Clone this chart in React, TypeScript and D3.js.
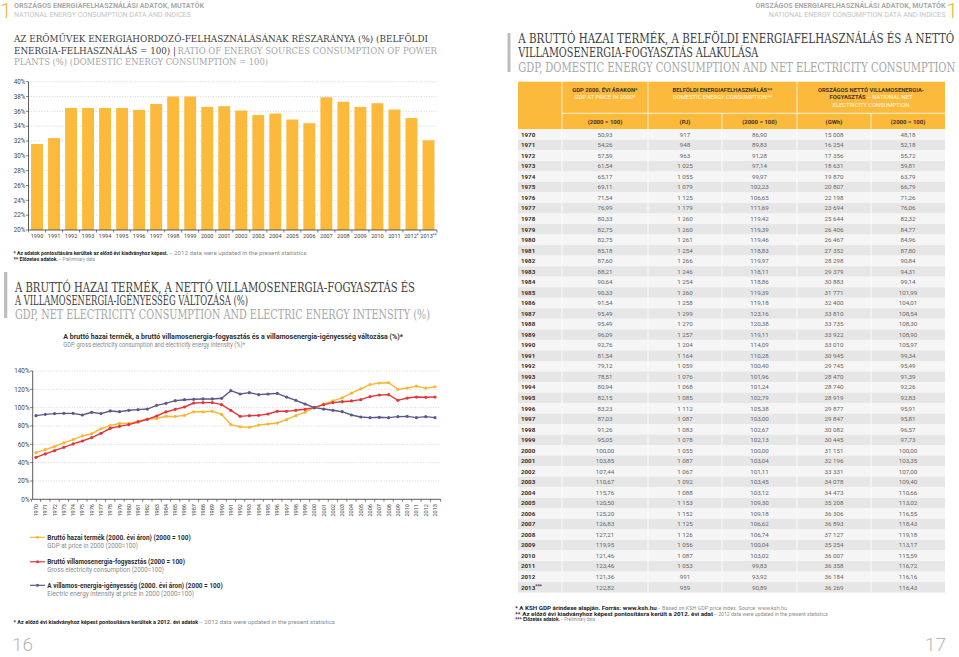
import React from "react";
import * as d3 from "d3";

// ---------- DATA ----------
const barYears = ["1990","1991","1992","1993","1994","1995","1996","1997","1998","1999","2000","2001","2002","2003","2004","2005","2006","2007","2008","2009","2010","2011","2012*","2013**"];
const barShare = [31.6,32.4,36.45,36.45,36.45,36.45,36.2,37.0,38.0,38.0,36.6,36.7,36.1,35.5,35.7,34.9,34.4,37.9,37.3,36.6,37.1,36.25,35.1,32.1];
const barTicks = [20,22,24,26,28,30,32,34,36,38,40];

const tableYears = ["1970","1971","1972","1973","1974","1975","1976","1977","1978","1979","1980","1981","1982","1983","1984","1985","1986","1987","1988","1989","1990","1991","1992","1993","1994","1995","1996","1997","1998","1999","2000","2001","2002","2003","2004","2005","2006","2007","2008","2009","2010","2011","2012","2013***"];
const gdpIdx = [50.93,54.26,57.59,61.54,65.17,69.11,71.54,76.99,80.33,82.75,82.75,85.18,87.60,88.21,90.64,90.33,91.54,95.49,95.49,96.09,92.76,81.54,79.12,78.51,80.94,82.15,83.23,87.03,91.26,95.05,100.00,103.85,107.44,110.67,115.76,120.50,125.20,126.83,127.21,119.95,121.46,123.46,121.36,122.82];
const energyPJ = [917,948,963,1025,1055,1079,1125,1179,1260,1260,1261,1254,1266,1246,1254,1260,1258,1299,1270,1257,1204,1164,1059,1076,1068,1085,1112,1087,1083,1078,1055,1087,1067,1092,1088,1153,1152,1125,1126,1056,1087,1053,991,959];
const energyIdx = [86.90,89.83,91.28,97.14,99.97,102.23,106.65,111.69,119.42,119.39,119.46,118.83,119.97,118.11,118.86,119.39,119.18,123.16,120.38,119.11,114.09,110.28,100.40,101.96,101.24,102.79,105.38,103.00,102.67,102.13,100.00,103.04,101.11,103.45,103.12,109.30,109.18,106.62,106.74,100.04,103.02,99.83,93.92,90.89];
const elecGWh = [15008,16254,17356,18631,19870,20807,22198,23694,25644,26406,26467,27352,28298,29379,30883,31771,32400,33810,33735,33922,33010,30945,29745,28470,28740,28919,29877,29847,30082,30445,31151,32196,33331,34078,34473,35208,36306,36893,37127,35254,36007,36358,36184,36269];
const elecIdx = [48.18,52.18,55.72,59.81,63.79,66.79,71.26,76.06,82.32,84.77,84.96,87.80,90.84,94.31,99.14,101.99,104.01,108.54,108.30,108.90,105.97,99.34,95.49,91.39,92.26,92.83,95.91,95.81,96.57,97.73,100.00,103.35,107.00,109.40,110.66,113.02,116.55,118.43,119.18,113.17,115.59,116.72,116.16,116.43];

// line chart series
const lineYears = ["1970","1971","1972","1973","1974","1975","1976","1977","1978","1979","1980","1981","1982","1983","1984","1985","1986","1987","1988","1989","1990","1991","1992","1993","1994","1995","1996","1997","1998","1999","2000","2001","2002","2003","2004","2005","2006","2007","2008","2009","2010","2011","2012","2013"];
const grossElec = [45.8,49.5,53.1,56.7,60.4,63.6,67.3,72.0,77.5,79.6,81.5,84.4,87.3,90.9,95.3,98.2,100.7,105.1,105.5,105.5,103.3,97.1,90.5,91.3,91.6,93.1,96.0,96.0,97.1,98.2,100,103.3,105.5,106.5,107.3,108.7,112.0,113.8,114.2,108.0,110.5,111.6,111.3,111.6];
const intensity = [91.3,92.7,93.5,93.8,93.8,92.0,94.9,93.5,96.4,95.6,97.1,97.8,98.5,102.5,104.7,107.6,108.7,109.1,109.5,109.5,110.2,118.5,114.9,116.4,114.2,114.9,115.6,111.6,108.0,104.0,100,98.5,97.1,95.6,92.0,89.8,89.1,89.5,89.1,90.2,90.5,89.1,90.2,89.1];
const lineTicks = [0,20,40,60,80,100,120,140];

// ---------- STYLE ----------
const SANS = "Roboto, 'Noto Sans', sans-serif";
const SERIF = "'DejaVu Serif', serif";
const YEL = "#FBBA3C";
const C_GDP = "#F7B733";
const C_ELEC = "#E2363C";
const C_INT = "#5A5A8C";
const DARK = "#3c3c3c";
const GRAY = "#a6a6a6";

const hu = d3.formatLocale({ decimal: ",", thousands: " ", grouping: [3], currency: ["", ""] });
const f2 = hu.format(",.2f");
const f0 = hu.format(",.0f");

function T(p: any) {
  const { x, y, w, size = 6, weight = 400, fill = DARK, anchor = "start", family = SANS, children } = p;
  const extra: any = {};
  if (w) { extra.textLength = w; extra.lengthAdjust = "spacingAndGlyphs"; }
  return (
    <text x={x} y={y} fontSize={size} fontWeight={weight} fill={fill} textAnchor={anchor} fontFamily={family} {...extra}>
      {children}
    </text>
  );
}

function Note({ x, y, x1, x2, bold, rest, size = 5.3 }: any) {
  return (
    <g>
      <T x={x} y={y} w={x1 - x} size={size} weight={700} fill="#222">{bold}</T>
      <T x={x1 + 0.5} y={y} w={x2 - x1 - 0.5} size={size} fill="#8a8a8a">{rest}</T>
    </g>
  );
}

export default function App() {
  // Bar chart scales
  const xB = d3.scaleBand<string>().domain(barYears).range([28.5, 437]).paddingInner(0.3).paddingOuter(0.15);
  const yB = d3.scaleLinear().domain([20, 40]).range([230, 81.7]);
  const stepB = xB.step();

  // Line chart scales
  const xL = d3.scalePoint<string>().domain(lineYears).range([36, 435]);
  const stepL = xL.step();
  const yL = d3.scaleLinear().domain([0, 140]).range([499.3, 371]);
  const axL0 = 32.7, axL1 = 440.7;
  const line = d3.line<number>().x((_, i) => xL(lineYears[i]) as number).y((d) => yL(d));
  const series = [
    { data: gdpIdx, color: C_GDP },
    { data: grossElec, color: C_ELEC },
    { data: intensity, color: C_INT },
  ];

  // Table layout
  const tX = [518, 562, 648, 722, 797, 871, 945];
  const tTop = 81.7, tHeadMid = 113.3, tHeadBot = 129.3;
  const rowH = 10.53;
  const cols = [gdpIdx.map(f2), energyPJ.map(f0), energyIdx.map(f2), elecGWh.map(f0), elecIdx.map(f2)];

  const legend = [
    { y: 539.5, color: C_GDP, t1: "Bruttó hazai termék  (2000. évi áron) (2000 = 100)", w1: 143.4, t2: "GDP at price in 2000 (2000=100)", w2: 90.7 },
    { y: 564, color: C_ELEC, t1: "Bruttó villamosenergia-fogyasztás (2000 = 100)", w1: 137.7, t2: "Gross electricity consumption (2000=100)", w2: 116.7 },
    { y: 587.5, color: C_INT, t1: "A  villamos-energia-igényesség (2000. évi áron) (2000 = 100)", w1: 175.4, t2: "Electric energy intensity at price in 2000 (2000=100)", w2: 146.7 },
  ];

  return (
    <div style={{ position: "absolute", left: 0, top: 0, width: 959, height: 657, background: "#fff" }}>
      <svg width={959} height={657} viewBox="0 0 959 657" style={{ display: "block" }}>
        <rect width={959} height={657} fill="#fff" />

        {/* ---------- page headers ---------- */}
        <T x={0} y={17.5} size={21} weight={300} fill="#F6B331">1</T>
        <T x={14} y={8} w={190} size={6.3} weight={700} fill="#a9a9a9">ORSZÁGOS ENERGIAFELHASZNÁLÁSI ADATOK, MUTATÓK</T>
        <T x={14} y={17} w={176.7} size={6.3} fill="#c4c4c4">NATIONAL ENERGY CONSUMPTION DATA AND INDICES</T>

        <T x={958} y={17.5} size={21} weight={300} fill="#F6B331" anchor="end">1</T>
        <T x={945.5} y={8} w={190} size={6.3} weight={700} fill="#a9a9a9" anchor="end">ORSZÁGOS ENERGIAFELHASZNÁLÁSI ADATOK, MUTATÓK</T>
        <T x={945.5} y={17} w={176.7} size={6.3} fill="#c4c4c4" anchor="end">NATIONAL ENERGY CONSUMPTION DATA AND INDICES</T>

        {/* ---------- left title 1 ---------- */}
        <T x={14} y={42} w={414} size={10} family={SERIF} fill={DARK}>AZ ERŐMŰVEK ENERGIAHORDOZÓ-FELHASZNÁLÁSÁNAK RÉSZARÁNYA (%) (BELFÖLDI</T>
        <T x={14} y={53.5} w={162} size={10} family={SERIF} fill={DARK}>ENERGIA-FELHASZNÁLÁS = 100) |</T>
        <T x={177.5} y={53.5} w={259.5} size={10} family={SERIF} fill={GRAY}>RATIO OF ENERGY SOURCES CONSUMPTION OF POWER</T>
        <T x={14} y={65} w={254} size={10} family={SERIF} fill={GRAY}>PLANTS (%) (DOMESTIC ENERGY CONSUMPTION = 100)</T>

        {/* ---------- bar chart ---------- */}
        {barTicks.map((t) => (
          <g key={"bt" + t}>
            {t > 20 && <line x1={28.5} x2={437} y1={yB(t)} y2={yB(t)} stroke="#b8b8b8" strokeWidth={0.6} strokeDasharray="1,1.6" />}
            <line x1={26} x2={28.5} y1={yB(t)} y2={yB(t)} stroke="#333" strokeWidth={0.6} />
            <T x={25.5} y={yB(t) + 2.2} size={6.3} anchor="end" fill="#444">{t + "%"}</T>
          </g>
        ))}
        {barYears.map((yr, i) => (
          <rect key={"b" + yr} x={xB(yr)} y={yB(barShare[i])} width={xB.bandwidth()} height={yB(20) - yB(barShare[i])} fill={YEL} />
        ))}
        <line x1={28.5} x2={28.5} y1={yB(40)} y2={yB(20)} stroke="#333" strokeWidth={0.8} />
        <line x1={28.5} x2={437} y1={yB(20)} y2={yB(20)} stroke="#333" strokeWidth={0.8} />
        {barYears.map((yr, i) => {
          const tx = (xB(yr) as number) - stepB * 0.15;
          return <line key={"btk" + i} x1={tx} x2={tx} y1={230} y2={232.5} stroke="#333" strokeWidth={0.6} />;
        })}
        <line x1={437} x2={437} y1={230} y2={232.5} stroke="#333" strokeWidth={0.6} />
        {barYears.map((yr) => {
          const base = yr.replace(/\*/g, "");
          const stars = yr.slice(base.length);
          return (
            <text key={"bl" + yr} x={(xB(yr) as number) + xB.bandwidth() / 2} y={238} fontSize={5.6} fill="#444" fontFamily={SANS} textAnchor="middle">
              {base}
              {stars && <tspan fontSize={4.5} dy={-1.5}>{stars}</tspan>}
            </text>
          );
        })}
        <Note x={13.5} y={255} x1={168} x2={306.7} bold="* Az adatok pontosítására kerültek az előző évi kiadványhoz képest." rest=" – 2012 data were updated in the present statistics" />
        <Note x={13.5} y={260.8} x1={58} x2={95} bold="** Előzetes adatok." rest=" – Preliminary data" />

        {/* ---------- left title 2 ---------- */}
        <rect x={4} y={272} width={3.3} height={46} fill="#bdbdbd" />
        <T x={15} y={291.5} w={400} size={12} family={SERIF} fill={DARK}>A BRUTTÓ HAZAI TERMÉK, A NETTÓ VILLAMOSENERGIA-FOGYASZTÁS ÉS</T>
        <T x={15} y={305} w={233} size={12} family={SERIF} fill={DARK}>A VILLAMOSENERGIA-IGÉNYESSÉG VÁLTOZÁSA (%)</T>
        <T x={15} y={318.5} w={415} size={12} family={SERIF} fill={GRAY}>GDP, NET ELECTRICITY CONSUMPTION AND ELECTRIC ENERGY INTENSITY (%)</T>

        <T x={63.3} y={339} w={339.7} size={6.4} weight={700} fill="#2e2e2e">A bruttó hazai termék, a bruttó villamosenergia-fogyasztás és a villamosenergia-igényesség változása (%)*</T>
        <T x={63.3} y={347.2} w={181.7} size={6.4} fill="#8a8a8a">GDP, gross electricity consumption and electricity energy intensity (%)*</T>

        {/* ---------- line chart ---------- */}
        {lineTicks.map((t) => (
          <g key={"lt" + t}>
            {t > 0 && <line x1={axL0} x2={axL1} y1={yL(t)} y2={yL(t)} stroke="#b8b8b8" strokeWidth={0.6} strokeDasharray="1,1.6" />}
            <line x1={30} x2={axL0} y1={yL(t)} y2={yL(t)} stroke="#333" strokeWidth={0.6} />
            <T x={29.5} y={yL(t) + 2.2} size={6.3} anchor="end" fill="#444">{t + "%"}</T>
          </g>
        ))}
        <line x1={axL0} x2={axL0} y1={yL(140)} y2={yL(0)} stroke="#333" strokeWidth={0.8} />
        <line x1={axL0} x2={axL1} y1={yL(0)} y2={yL(0)} stroke="#333" strokeWidth={0.8} />
        {lineYears.map((yr, i) => {
          const tx = (xL(yr) as number) - stepL / 2;
          return <line key={"ltk" + i} x1={tx} x2={tx} y1={yL(0)} y2={yL(0) + 2.5} stroke="#333" strokeWidth={0.6} />;
        })}
        <line x1={axL1} x2={axL1} y1={yL(0)} y2={yL(0) + 2.5} stroke="#333" strokeWidth={0.6} />
        {lineYears.map((yr) => (
          <text key={"ll" + yr} transform={`translate(${(xL(yr) as number) + 2},504) rotate(-90)`} fontSize={5.6} fill="#444" fontFamily={SANS} textAnchor="end">{yr}</text>
        ))}
        {series.map((s, si) => (
          <g key={"s" + si}>
            <path d={line(s.data) as string} fill="none" stroke={s.color} strokeWidth={1.4} />
            {s.data.map((v, i) => (
              <circle key={i} cx={xL(lineYears[i])} cy={yL(v)} r={1.6} fill={s.color} />
            ))}
          </g>
        ))}

        {/* legend */}
        {legend.map((l, i) => (
          <g key={"lg" + i}>
            <line x1={30} x2={45} y1={l.y - 2.2} y2={l.y - 2.2} stroke={l.color} strokeWidth={1.2} />
            <circle cx={37.5} cy={l.y - 2.2} r={1.5} fill={l.color} />
            <T x={47.3} y={l.y} w={l.w1} size={6.4} weight={700} fill="#2e2e2e">{l.t1}</T>
            <T x={47.3} y={l.y + 8.2} w={l.w2} size={6.4} fill="#8a8a8a">{l.t2}</T>
          </g>
        ))}

        <Note x={13.5} y={624} x1={198.3} x2={335} bold="* Az előző évi kiadványhoz képest pontosításra kerültek a 2012. évi adatok" rest=" – 2012 data were updated in the present statistics" />

        <T x={12} y={651} size={19} weight={300} fill="#b5b5b5">16</T>
        <T x={946} y={651} size={19} weight={300} fill="#b5b5b5" anchor="end">17</T>

        {/* ---------- right title ---------- */}
        <rect x={507.5} y={33} width={3} height={39} fill="#bdbdbd" />
        <T x={518.3} y={42.5} w={436} size={13} family={SERIF} fill={DARK}>A BRUTTÓ HAZAI TERMÉK, A BELFÖLDI ENERGIAFELHASZNÁLÁS ÉS A NETTÓ</T>
        <T x={518.3} y={57} w={240} size={13} family={SERIF} fill={DARK}>VILLAMOSENERGIA-FOGYASZTÁS ALAKULÁSA</T>
        <T x={518.3} y={71.5} w={437} size={13} family={SERIF} fill={GRAY}>GDP, DOMESTIC ENERGY CONSUMPTION AND NET ELECTRICITY CONSUMPTION</T>

        {/* ---------- table ---------- */}
        <rect x={tX[0]} y={tTop} width={tX[6] - tX[0]} height={tHeadBot - tTop} fill={YEL} />
        <line x1={tX[1]} x2={tX[6]} y1={tHeadMid} y2={tHeadMid} stroke="#fff" strokeWidth={0.8} />
        {[1, 2, 4].map((k) => (
          <line key={"hv" + k} x1={tX[k]} x2={tX[k]} y1={tTop} y2={tHeadBot} stroke="#fff" strokeWidth={0.8} />
        ))}
        {[3, 5].map((k) => (
          <line key={"hv2" + k} x1={tX[k]} x2={tX[k]} y1={tHeadMid} y2={tHeadBot} stroke="#fff" strokeWidth={0.8} />
        ))}
        <T x={605} y={91.5} size={5.8} weight={700} fill="#3d3428" anchor="middle">GDP 2000. ÉVI ÁRAKON*</T>
        <T x={605} y={99} size={5.8} fill="#fff7e6" anchor="middle">GDP AT PRICE IN 2000*</T>
        <T x={722.5} y={91.5} size={5.8} weight={700} fill="#3d3428" anchor="middle">BELFÖLDI ENERGIAFELHASZNÁLÁS**</T>
        <T x={722.5} y={99} size={5.8} fill="#fff7e6" anchor="middle">DOMESTIC ENERGY CONSUMPTION**</T>
        <T x={871} y={91.5} size={5.8} weight={700} fill="#3d3428" anchor="middle">ORSZÁGOS NETTÓ VILLAMOSENERGIA-</T>
        <text x={871} y={99} fontSize={5.8} fontFamily={SANS} textAnchor="middle">
          <tspan fontWeight={700} fill="#3d3428">FOGYASZTÁS</tspan>
          <tspan fill="#fff7e6"> – NATIONAL NET</tspan>
        </text>
        <T x={871} y={106.8} size={5.8} fill="#fff7e6" anchor="middle">ELECTRICITY CONSUMPTION</T>
        {["(2000 = 100)", "(PJ)", "(2000 = 100)", "(GWh)", "(2000 = 100)"].map((s, k) => (
          <T key={"u" + k} x={(tX[k + 1] + tX[k + 2]) / 2} y={123.8} size={6} weight={700} fill="#3d3428" anchor="middle">{s}</T>
        ))}

        {tableYears.map((yr, i) => {
          const y0 = tHeadBot + i * rowH;
          return (
            <g key={"r" + yr}>
              <rect x={tX[0]} y={y0} width={tX[6] - tX[0]} height={rowH} fill={i % 2 === 0 ? "#f5f5f5" : "#e6e6e6"} />
              {[1, 2, 3, 4, 5].map((k) => (
                <line key={k} x1={tX[k]} x2={tX[k]} y1={y0} y2={y0 + rowH} stroke="#fff" strokeWidth={0.8} />
              ))}
              <text x={521} y={y0 + rowH / 2 + 2.2} fontSize={6.2} fontWeight={700} fill="#2f2f2f" fontFamily={SANS}>
                {yr.replace(/\*/g, "")}
                {yr.includes("*") && <tspan fontSize={4.8} dy={-1.2}>***</tspan>}
              </text>
              {cols.map((c, k) => (
                <T key={"c" + k} x={(tX[k + 1] + tX[k + 2]) / 2} y={y0 + rowH / 2 + 2.2} size={6.2} fill="#666" anchor="middle">{c[i]}</T>
              ))}
            </g>
          );
        })}

        <Note x={515} y={610} x1={656.7} x2={787} bold="* A KSH GDP árindexe alapján. Forrás: www.ksh.hu" rest=" – Based on KSH GDP price index. Source: www.ksh.hu" />
        <Note x={515} y={615.8} x1={713} x2={828} bold="** Az előző évi kiadványhoz képest pontosításra került a 2012. évi adat" rest=" – 2012 data were updated in the present statistics" />
        <Note x={515} y={621.3} x1={560} x2={595} bold="*** Előzetes adatok." rest=" – Preliminary data" />
      </svg>
    </div>
  );
}
